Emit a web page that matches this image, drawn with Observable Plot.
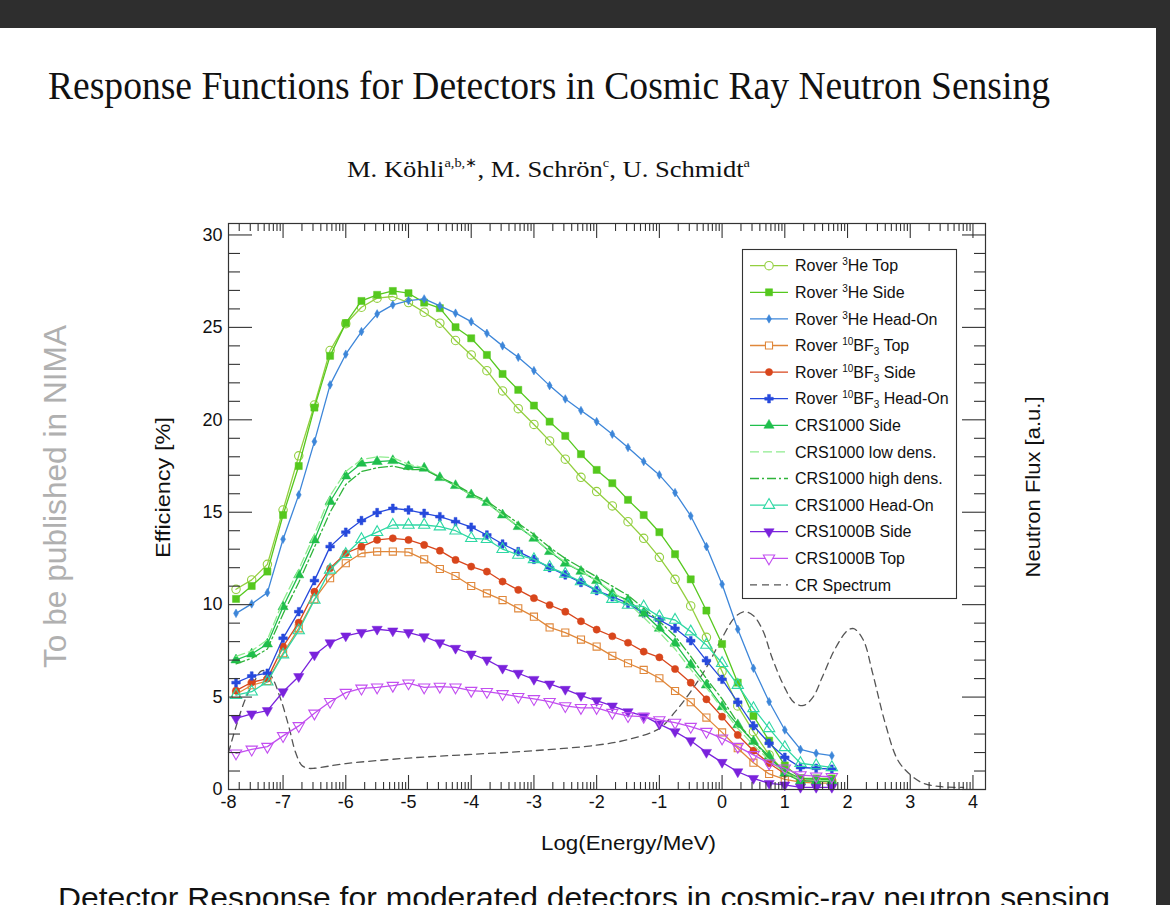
<!DOCTYPE html>
<html><head><meta charset="utf-8">
<script src="https://cdn.jsdelivr.net/npm/d3@7"></script>
<script src="https://cdn.jsdelivr.net/npm/@observablehq/plot@0.6"></script>
<style>
html,body{margin:0;padding:0;background:#fff;}
body{width:1170px;height:905px;position:relative;overflow:hidden;font-family:"Liberation Sans",Arial,Helvetica,sans-serif;}
#topbar{position:absolute;left:0;top:0;width:1170px;height:28px;background:#2e2e2e;}
#rightbar{position:absolute;left:1156px;top:0;width:14px;height:905px;background:#2e2e2e;}
#chart{position:absolute;left:0;top:190px;}
#overlay,#legend{position:absolute;left:0;top:0;}
</style></head><body>
<div id="chart"></div>
<svg id="overlay" width="1170" height="905" font-family="Liberation Sans, Arial, sans-serif">
  <text x="48" y="99" font-family="Liberation Serif, Times New Roman, serif" font-size="40" fill="#111" textLength="1002" lengthAdjust="spacingAndGlyphs">Response Functions for Detectors in Cosmic Ray Neutron Sensing</text>
  <text x="347" y="177" font-family="Liberation Serif, Times New Roman, serif" font-size="24" fill="#111" textLength="403" lengthAdjust="spacingAndGlyphs">M. Köhli<tspan font-size="13" dy="-10">a,b,∗</tspan><tspan dy="10">, M. Schrön</tspan><tspan font-size="13" dy="-10">c</tspan><tspan dy="10">, U. Schmidt</tspan><tspan font-size="13" dy="-10">a</tspan></text>
  <text transform="translate(66,496.5) rotate(-90)" text-anchor="middle" font-size="32" fill="#b0b0b0" textLength="343" lengthAdjust="spacingAndGlyphs">To be published in NIMA</text>
  <text transform="translate(170,487.5) rotate(-90)" text-anchor="middle" font-size="21" fill="#111" textLength="141" lengthAdjust="spacingAndGlyphs">Efficiency [%]</text>
  <text transform="translate(1040,487) rotate(-90)" text-anchor="middle" font-size="21" fill="#111" textLength="181" lengthAdjust="spacingAndGlyphs">Neutron Flux [a.u.]</text>
  <text x="541" y="850" font-size="20" fill="#111" textLength="175" lengthAdjust="spacingAndGlyphs">Log(Energy/MeV)</text>
  <text x="58" y="908" font-size="29.5" fill="#111" textLength="1052" lengthAdjust="spacingAndGlyphs">Detector Response for moderated detectors in cosmic-ray neutron sensing</text>
</svg>
<svg id="legend" width="1170" height="905"></svg>
<div id="topbar"></div><div id="rightbar"></div>
<script>
// ---------- data ----------
const energy = [-7.75,-7.5,-7.25,-7,-6.75,-6.5,-6.25,-6,-5.75,-5.5,-5.25,-5,-4.75,-4.5,-4.25,-4,-3.75,-3.5,-3.25,-3,-2.75,-2.5,-2.25,-2,-1.75,-1.5,-1.25,-1,-0.75,-0.5,-0.25,0,0.25,0.5,0.75,1,1.25,1.5,1.75];

const he3Top  = [10.83,11.34,12.18,15.12,18.05,20.8,23.75,25.2,26.09,26.58,26.67,26.34,25.82,25.23,24.29,23.51,22.66,21.56,20.6,19.75,18.86,17.87,16.89,16.12,15.34,14.49,13.59,12.56,11.37,9.93,8.23,6.38,4.52,3.13,1.87,0.95,0.5,0.48,0.45];
const he3Side = [10.31,11.01,11.79,14.85,17.5,20.66,23.46,25.23,26.43,26.76,26.97,26.85,26.34,26.04,25.01,24.41,23.51,22.48,21.62,20.77,19.9,19.13,18.14,17.29,16.57,15.67,14.85,13.92,12.73,11.37,9.68,7.87,5.78,3.98,2.64,1.3,0.62,0.6,0.6];
const he3Head = [9.53,10.04,10.65,13.54,15.94,18.82,21.89,23.55,24.77,25.73,26.22,26.45,26.54,26.16,25.77,25.31,24.68,24.0,23.38,22.66,21.85,21.13,20.5,19.9,19.22,18.5,17.74,17.02,16.06,14.8,13.14,11.1,8.67,6.56,4.75,3.22,2.17,1.96,1.83];
const bf3Top  = [5.15,5.64,5.87,7.37,8.72,10.29,11.43,12.24,12.78,12.87,12.87,12.84,12.45,11.93,11.55,11.01,10.61,10.25,9.8,9.35,8.77,8.49,8.11,7.73,7.23,6.83,6.47,6.02,5.33,4.72,3.89,3.09,2.23,1.45,0.84,0.55,0.4,0.35,0.35];
const bf3Side = [5.35,5.8,6.0,7.73,9.03,10.7,11.97,12.78,13.14,13.5,13.59,13.5,13.23,12.92,12.42,12.06,11.79,11.25,10.8,10.35,9.98,9.62,9.1,8.65,8.29,7.94,7.46,7.15,6.52,5.78,4.88,3.94,2.95,2.1,1.42,0.85,0.5,0.45,0.45];
const bf3Head = [5.78,6.14,6.29,8.18,9.62,11.3,13.14,13.92,14.55,14.98,15.21,15.12,14.94,14.76,14.49,14.19,13.77,13.28,12.87,12.45,12.0,11.61,11.2,10.76,10.43,10.07,9.53,9.17,8.72,8.05,6.97,5.96,4.72,3.45,2.5,1.74,1.19,1.15,1.1];
const crsSide = [7.01,7.33,7.87,9.89,11.61,13.5,15.58,16.96,17.65,17.74,17.79,17.47,17.38,16.87,16.44,15.94,15.52,14.85,14.22,13.59,12.87,12.24,11.8,11.3,10.6,10.25,9.53,8.72,7.91,6.74,5.65,4.48,3.5,2.6,1.8,0.88,0.45,0.45,0.45];
const crsLow  = [7.2,7.5,8.1,10.2,11.9,13.8,15.9,17.2,17.85,18.0,17.95,17.6,17.4,16.9,16.45,15.95,15.5,14.85,14.25,13.6,12.9,12.3,11.8,11.3,10.7,10.1,9.3,8.5,7.6,6.5,5.5,4.4,3.3,2.4,1.6,0.9,0.55,0.5,0.5];
const crsHigh = [6.8,7.1,7.6,9.5,11.2,13.1,15.0,16.5,17.2,17.4,17.5,17.3,17.3,16.9,16.5,16.0,15.6,15.0,14.4,13.8,13.1,12.5,12.0,11.5,11.0,10.5,9.8,9.1,8.3,7.2,6.0,4.9,3.6,2.6,1.7,1.0,0.6,0.55,0.55];
const crsHead = [5.1,5.29,5.83,7.3,8.6,10.25,11.88,12.73,13.54,13.92,14.31,14.31,14.31,14.22,14.0,13.59,13.54,13.0,12.69,12.45,12.03,11.66,11.25,10.8,10.3,9.98,9.89,9.35,9.17,8.54,7.82,6.83,5.65,4.39,3.31,2.28,1.42,1.3,1.2];
const crsBSide = [3.85,4.09,4.27,5.29,6.11,7.28,7.94,8.31,8.5,8.67,8.58,8.49,8.27,7.94,7.64,7.33,7.01,6.56,6.29,5.96,5.71,5.42,5.08,4.81,4.52,4.21,3.98,3.54,3.13,2.64,2.01,1.47,0.96,0.6,0.33,0.25,0.12,0.12,0.12];
const crsBTop  = [1.96,2.17,2.32,2.9,3.44,4.12,4.75,5.24,5.47,5.53,5.62,5.75,5.53,5.57,5.53,5.35,5.29,5.17,5.02,4.9,4.75,4.52,4.42,4.42,4.16,3.98,3.94,3.76,3.62,3.4,3.13,2.77,2.32,1.87,1.42,1.15,0.78,0.72,0.69];

const crEnergy = [-7.87,-7.75,-7.6,-7.45,-7.35,-7.25,-7.15,-7.05,-7.0,-6.9,-6.8,-6.7,-6.6,-6.5,-6.0,-5.0,-4.0,-3.0,-2.0,-1.5,-1.0,-0.75,-0.5,-0.25,0,0.2,0.35,0.5,0.65,0.8,1.0,1.15,1.3,1.45,1.6,1.8,2.0,2.1,2.25,2.4,2.6,2.8,3.0,3.2,3.5,3.85];
const crFlux   = [2.0,3.4,4.9,5.9,6.4,6.4,5.9,5.0,4.5,3.3,2.0,1.3,1.15,1.15,1.4,1.7,1.9,2.1,2.4,2.7,3.3,4.2,5.3,6.6,8.2,9.3,9.62,9.4,8.6,7.1,5.5,4.7,4.55,5.0,6.1,7.6,8.6,8.7,8.1,6.3,3.6,1.6,0.8,0.35,0.15,0.12];

const yMajorTicks = [0,5,10,15,20,25,30];
const xMajorTicks = [-7,-6,-5,-4,-3,-2,-1,0,1,2,3,4];
const xTickLabels = [-8,-7,-6,-5,-4,-3,-2,-1,0,1,2,3,4];

const seriesNames = ["Rover ^{3}He Top","Rover ^{3}He Side","Rover ^{3}He Head-On","Rover ^{10}BF_{3} Top","Rover ^{10}BF_{3} Side","Rover ^{10}BF_{3} Head-On","CRS1000 Side","CRS1000 low dens.","CRS1000 high dens.","CRS1000 Head-On","CRS1000B Side","CRS1000B Top"];
const seriesValues = [he3Top, he3Side, he3Head, bf3Top, bf3Side, bf3Head, crsSide, crsLow, crsHigh, crsHead, crsBSide, crsBTop];
const crName = "CR Spectrum";

// ---------- styles ----------
const triangleDown = {
  draw(context, size) {
    const y = -Math.sqrt(size / (Math.sqrt(3) * 3));
    context.moveTo(0, -y * 2);
    context.lineTo(-Math.sqrt(3) * y, y);
    context.lineTo(Math.sqrt(3) * y, y);
    context.closePath();
  }
};
const styles = [
  {color:"#93cf3f", symbol:"circle",   filled:false, r:4.2},
  {color:"#55c81e", symbol:"square",   filled:true,  r:4},
  {color:"#3d86d9", symbol:"diamond",  filled:true,  r:2.6},
  {color:"#e0873a", symbol:"square",   filled:false, r:4},
  {color:"#d8461c", symbol:"circle",   filled:true,  r:3.6},
  {color:"#2649dc", symbol:"cross",    filled:true,  r:3.6},
  {color:"#1fbf4c", symbol:"triangle", filled:true,  r:3.8},
  {color:"#8fec8f", dash:"9,4"},
  {color:"#2fb43a", dash:"9,3,2,3"},
  {color:"#2fd8a4", symbol:"triangle", filled:false, r:4.2},
  {color:"#7a22dc", symbol:triangleDown, filled:true, r:3.8},
  {color:"#c24ef0", symbol:triangleDown, filled:false, r:4.2}
];
const crStyle = {color:"#555", dash:"7,5"};

// ---------- chart ----------
const xDomain = [-7.87, 4.2];
const yDomain = [0, 30.62];
const xMinor = [];
for (let d = -8; d < 5; d++) for (let k = 2; k <= 9; k++) {
  const v = d + Math.log10(k);
  if (v > xDomain[0] && v < xDomain[1]) xMinor.push(v);
}
const yMinor = d3.range(0, 31).filter(v => v % 5 !== 0);

const marks = [];
marks.push(Plot.line(crEnergy.map((x,i)=>({x, y: crFlux[i]})), {x:"x", y:"y", stroke: crStyle.color, strokeWidth:1.3, strokeDasharray: crStyle.dash, curve:"catmull-rom"}));
seriesValues.forEach((vals, si) => {
  const st = styles[si];
  const data = energy.map((x,i)=>({x, y: vals[i]}));
  marks.push(Plot.line(data, {x:"x", y:"y", stroke: st.color, strokeWidth: 1.3, strokeDasharray: st.dash || null}));
  if (st.symbol) {
    marks.push(Plot.dot(data, {x:"x", y:"y", symbol: st.symbol, r: st.r,
      fill: st.filled ? st.color : "none", stroke: st.color, strokeWidth: st.filled ? 0.5 : 1.1}));
  }
});
const tickStyle = {stroke:"#333", strokeWidth:1.1, label:null, tickFormat: () => ""};
marks.push(
  Plot.axisY({...tickStyle, anchor:"left", ticks: yMajorTicks, tickSize:-24}),
  Plot.axisY({...tickStyle, anchor:"left", ticks: yMinor, tickSize:-12}),
  Plot.axisY({...tickStyle, anchor:"right", ticks: yMajorTicks, tickSize:-24}),
  Plot.axisY({...tickStyle, anchor:"right", ticks: yMinor, tickSize:-12}),
  Plot.axisX({...tickStyle, anchor:"bottom", ticks: xMajorTicks, tickSize:-14}),
  Plot.axisX({...tickStyle, anchor:"bottom", ticks: xMinor, tickSize:-7}),
  Plot.axisX({...tickStyle, anchor:"top", ticks: xMajorTicks, tickSize:-14}),
  Plot.axisX({...tickStyle, anchor:"top", ticks: xMinor, tickSize:-7}),
  Plot.axisY({anchor:"left", ticks: yMajorTicks, tickSize:0, tickPadding:6, label:null, fontSize:18, fill:"#111", tickFormat: d => String(d)}),
  Plot.text(xTickLabels, {x: d => Math.max(d, xDomain[0]), frameAnchor:"bottom", dy:18, text: d => String(d), fontSize:18, fill:"#111"}),
  Plot.frame({stroke:"#333", strokeWidth:1.2})
);

const chart = Plot.plot({
  width: 1170, height: 680,
  marginLeft: 228, marginRight: 185, marginTop: 33, marginBottom: 81,
  x: {domain: xDomain, axis: null, label: null},
  y: {domain: yDomain, axis: null, label: null},
  style: {fontFamily: "Liberation Sans, Arial, sans-serif", background: "transparent", overflow: "visible"},
  marks
});
document.getElementById("chart").appendChild(chart);

// ---------- legend ----------
const lg = d3.select("#legend");
lg.append("rect").attr("x", 742.5).attr("y", 249.5).attr("width", 214).attr("height", 349)
  .attr("fill", "white").attr("stroke", "#333").attr("stroke-width", 1.1);
const symMap = {circle: d3.symbolCircle, square: d3.symbolSquare, diamond: d3.symbolDiamond, cross: d3.symbolCross, triangle: d3.symbolTriangle};
function addLabel(g, label) {
  const t = g.append("text").attr("x", 795).attr("y", 5.6).attr("font-size", 16).attr("fill", "#111")
    .attr("font-family", "Liberation Sans, Arial, sans-serif");
  const re = /\^\{([^}]*)\}|_\{([^}]*)\}|[^^_]+/g;
  let m, shift = 0;
  while ((m = re.exec(label))) {
    if (m[1] !== undefined) { t.append("tspan").attr("font-size", 10).attr("dy", -6 - shift).text(m[1]); shift = -6; }
    else if (m[2] !== undefined) { t.append("tspan").attr("font-size", 10).attr("dy", 4 - shift).text(m[2]); shift = 4; }
    else { t.append("tspan").attr("dy", -shift).text(m[0]); shift = 0; }
  }
}
const legendItems = seriesNames.map((n, i) => ({name: n, st: styles[i]})).concat([{name: crName, st: crStyle}]);
legendItems.forEach((it, i) => {
  const g = lg.append("g").attr("transform", `translate(0,${265.7 + i * 26.6})`);
  g.append("line").attr("x1", 750).attr("x2", 788).attr("y1", 0).attr("y2", 0)
    .attr("stroke", it.st.color).attr("stroke-width", 1.3).attr("stroke-dasharray", it.st.dash || null);
  if (it.st.symbol) {
    const type = typeof it.st.symbol === "string" ? symMap[it.st.symbol] : it.st.symbol;
    g.append("path").attr("transform", "translate(769,0)")
      .attr("d", d3.symbol().type(type).size(Math.PI * it.st.r * it.st.r)())
      .attr("fill", it.st.filled ? it.st.color : "white").attr("stroke", it.st.color)
      .attr("stroke-width", it.st.filled ? 0.5 : 1.1);
  }
  addLabel(g, it.name);
});
</script>
</body></html>
